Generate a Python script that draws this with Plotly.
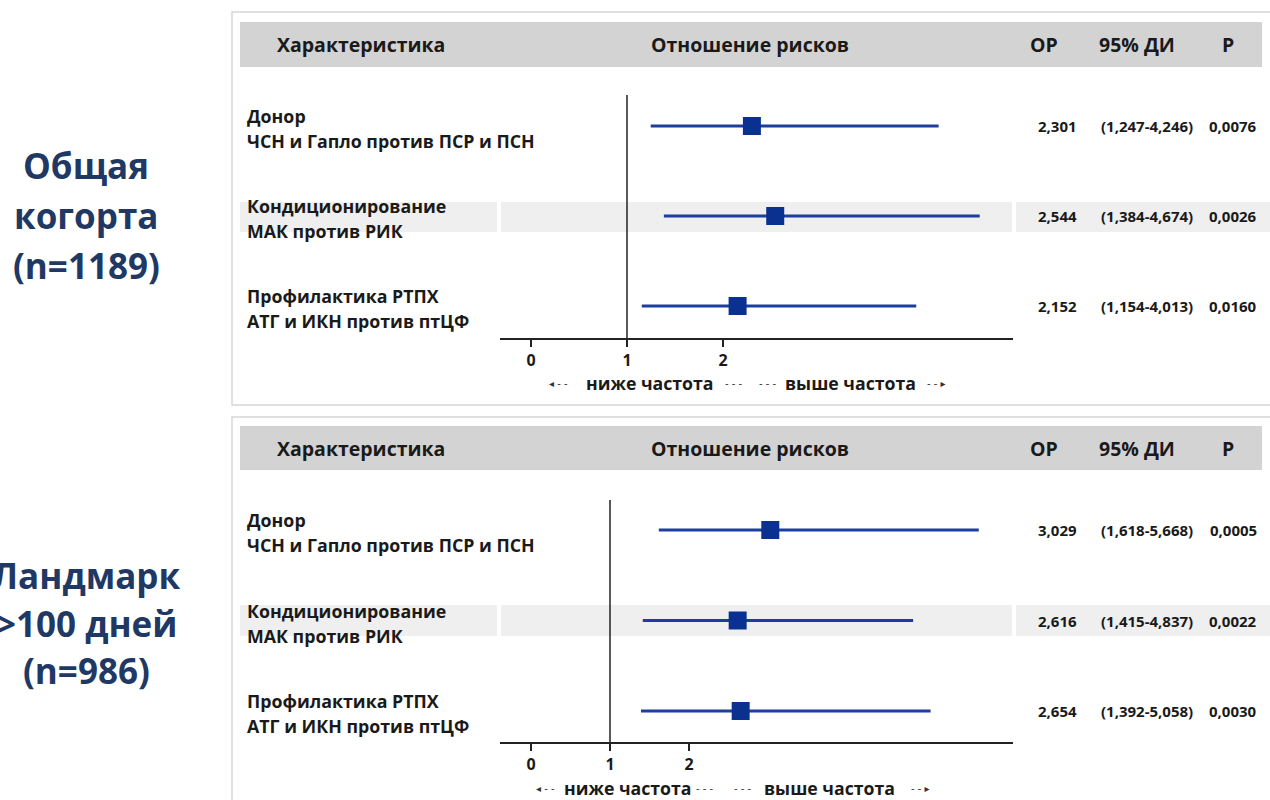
import plotly.graph_objects as go

# ---------------- data ----------------
labels_top = ["Донор", "Кондиционирование", "Профилактика РТПХ"]
labels_sub = ["ЧСН и Гапло против ПСР и ПСН", "МАК против РИК", "АТГ и ИКН против птЦФ"]
rows = [1, 2, 3]

hr_all = [2.301, 2.544, 2.152]
lo_all = [1.247, 1.384, 1.154]
hi_all = [4.246, 4.674, 4.013]
p_all = ["0,0076", "0,0026", "0,0160"]

hr_lm = [3.029, 2.616, 2.654]
lo_lm = [1.618, 1.415, 1.392]
hi_lm = [5.668, 4.837, 5.058]
p_lm = ["0,0005", "0,0022", "0,0030"]

tick_vals = [0, 1, 2]
tick_text = ["0", "1", "2"]
headers = ["Характеристика", "Отношение рисков", "ОР", "95% ДИ", "P"]
cohort_titles = [["Общая", "когорта", "(n=1189)"], ["Ландмарк", ">100 дней", "(n=986)"]]

W, H = 1270, 800
FONT = "Open Sans"
TXT = "#1a1a1a"
BLUE_LINE = "#1c3f9e"
BLUE_MARK = "#0a3190"
NAVY = "#1f3864"


def px(x):
    return x / W


def py(y):
    return 1 - y / H


def fmt(v):
    return f"{v:.3f}".replace(".", ",")


fig = go.Figure()
shapes = []
ann = []

panels = [
    dict(hr=hr_all, lo=lo_all, hi=hi_all, p=p_all, xa="x", ya="y",
         frame=(12, 405), head=(22, 67), row0=126, dy=90, axis_y=338, top_y=80,
         ref_top=95, ppu=96, band=(202, 232), title_ys=[165, 215, 265],
         arrows=[(558, "◂ - -", False), (650, "ниже частота", True), (734, "- - -", False),
                 (768, "- - -", False), (850, "выше частота", True), (937, "- - ▸", False)],
         arrow_y=383),
    dict(hr=hr_lm, lo=lo_lm, hi=hi_lm, p=p_lm, xa="x2", ya="y2",
         frame=(417, 806), head=(426, 470), row0=530, dy=90.5, axis_y=742, top_y=485,
         ref_top=500, ppu=79, band=(605, 636), title_ys=[575, 623, 670],
         arrows=[(545, "◂ - -", False), (628, "ниже частота", True), (705, "- - -", False),
                 (743, "- - -", False), (829, "выше частота", True), (920, "- - ▸", False)],
         arrow_y=788),
]

axes_layout = {}
for i, P in enumerate(panels):
    # frame
    shapes.append(dict(type="rect", xref="paper", yref="paper", x0=px(232), x1=px(1290),
                       y0=py(P["frame"][1]), y1=py(P["frame"][0]),
                       line=dict(color="#d6d6d6", width=1.5), fillcolor="rgba(0,0,0,0)", layer="below"))
    # header band
    shapes.append(dict(type="rect", xref="paper", yref="paper", x0=px(240), x1=px(1262),
                       y0=py(P["head"][1]), y1=py(P["head"][0]),
                       line=dict(width=0), fillcolor="#d3d3d3", layer="below"))
    # row-2 stripe segments
    for a, b in [(240, 497), (501, 1012), (1016, 1272)]:
        shapes.append(dict(type="rect", xref="paper", yref="paper", x0=px(a), x1=px(b),
                           y0=py(P["band"][1]), y1=py(P["band"][0]),
                           line=dict(width=0), fillcolor="#efefef", layer="below"))
    hy = (P["head"][0] + P["head"][1]) / 2
    hx = [(275, "left"), (750, "center"), (1044, "center"), (1137, "center"), (1228, "center")]
    for (x, anc), t in zip(hx, headers):
        ann.append(dict(x=px(x), y=py(hy), xref="paper", yref="paper", text=t, showarrow=False,
                        xanchor=anc, yanchor="middle",
                        font=dict(family=FONT, size=19.5, color=TXT, weight="bold")))
    # row labels and numbers
    for k, r in enumerate(rows):
        yr = P["row0"] + P["dy"] * (r - 1)
        ann.append(dict(x=px(245), y=py(yr - 10), xref="paper", yref="paper", text=labels_top[k],
                        showarrow=False, xanchor="left", yanchor="middle",
                        font=dict(family=FONT, size=17.8, color=TXT, weight="bold")))
        ann.append(dict(x=px(245), y=py(yr + 15), xref="paper", yref="paper", text=labels_sub[k],
                        showarrow=False, xanchor="left", yanchor="middle",
                        font=dict(family=FONT, size=17.8, color=TXT, weight="bold")))
        for x, t in [(1057, fmt(P["hr"][k])),
                     (1147, f"({fmt(P['lo'][k])}-{fmt(P['hi'][k])})"),
                     (1233, P["p"][k])]:
            ann.append(dict(x=px(x), y=py(yr), xref="paper", yref="paper", text=t,
                            showarrow=False, xanchor="center", yanchor="middle",
                            font=dict(family=FONT, size=15, color=TXT, weight="bold")))
    # arrows text
    for x, t, bold in P["arrows"]:
        ann.append(dict(x=px(x), y=py(P["arrow_y"]), xref="paper", yref="paper", text=t,
                        showarrow=False, xanchor="center", yanchor="middle",
                        font=dict(family=FONT if bold else "DejaVu Sans",
                                  size=17.7 if bold else 10, color=TXT if bold else "#333",
                                  weight="bold" if bold else "normal")))
    # cohort title
    for t, ty in zip(cohort_titles[i], P["title_ys"]):
        ann.append(dict(x=px(86), y=py(ty), xref="paper", yref="paper", text=t,
                        showarrow=False, xanchor="center", yanchor="middle",
                        font=dict(family=FONT, size=35, color=NAVY, weight="bold")))

    # axes
    x0p, x1p = 500, 1013
    zero = 531
    rng = [(x0p - zero) / P["ppu"], (x1p - zero) / P["ppu"]]
    ybot = 1 + (P["axis_y"] - P["row0"]) / P["dy"]
    ytop = 1 - (P["row0"] - P["top_y"]) / P["dy"]
    xname = "xaxis" if i == 0 else "xaxis2"
    yname = "yaxis" if i == 0 else "yaxis2"
    axes_layout[xname] = dict(domain=[px(x0p), px(x1p)], range=rng, showgrid=False, zeroline=False,
                              showline=True, linecolor="#222", linewidth=2,
                              ticks="outside", ticklen=7, tickwidth=2, tickcolor="#222",
                              tickvals=tick_vals, ticktext=tick_text,
                              tickfont=dict(family=FONT, size=16, color=TXT, weight="bold"),
                              anchor="y" if i == 0 else "y2", fixedrange=True)
    axes_layout[yname] = dict(domain=[py(P["axis_y"]), py(P["top_y"])], range=[ybot, ytop],
                              visible=False, anchor="x" if i == 0 else "x2", fixedrange=True)
    # reference line at 1
    shapes.append(dict(type="line", xref=P["xa"], yref="paper", x0=1, x1=1,
                       y0=py(P["axis_y"]), y1=py(P["ref_top"]), line=dict(color="#222", width=1.5)))

    fig.add_trace(go.Scatter(
        x=P["hr"], y=rows, mode="markers", xaxis=P["xa"], yaxis=P["ya"],
        marker=dict(symbol="square", size=18, color=BLUE_MARK),
        error_x=dict(type="data", symmetric=False,
                     array=[h - m for h, m in zip(P["hi"], P["hr"])],
                     arrayminus=[m - l for m, l in zip(P["hr"], P["lo"])],
                     color=BLUE_LINE, thickness=3, width=0),
        showlegend=False, hoverinfo="skip"))

fig.update_layout(width=W, height=H, margin=dict(l=0, r=0, t=0, b=0),
                  paper_bgcolor="white", plot_bgcolor="rgba(0,0,0,0)",
                  shapes=shapes, annotations=ann, showlegend=False, **axes_layout)

fig.write_html("out.html", config={"displayModeBar": False})
